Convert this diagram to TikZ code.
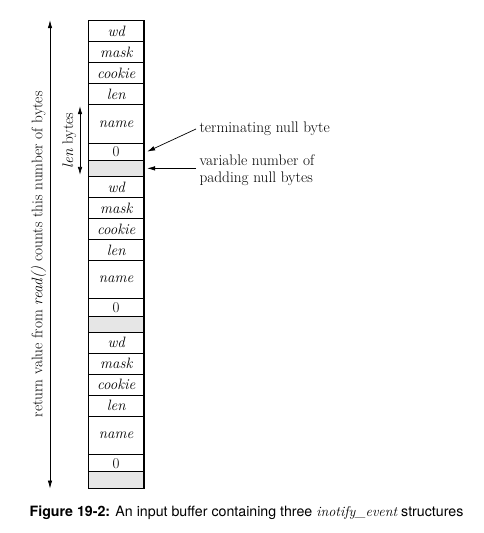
\documentclass[tikz,border=0pt]{standalone}
\usepackage{fontspec}
\newfontfamily\capfont{TeX Gyre Heros}
\usetikzlibrary{matrix,arrows.meta}

\begin{document}
\begin{tikzpicture}[x=1pt,y=-1pt]

% Define colors for styling
\definecolor{padColor}{RGB}{230,230,230} % Light gray for padding bytes

\tikzset{
  lbl/.style={font=\fontsize{15.3}{17}\selectfont}, % Labels beside the buffer
  arr/.style={-{Latex[length=8pt,width=4.5pt]}, line width=0.7pt},
  dblarr/.style={{Latex[length=8pt,width=4.5pt]}-{Latex[length=8pt,width=4.5pt]}, line width=0.7pt}
}

\useasboundingbox (0,0) rectangle (483,533);

% The buffer as a one-column matrix, one cell per field
\matrix (m) [
  matrix of nodes,
  nodes in empty cells,
  anchor=north west,
  inner sep=0pt,
  nodes={
    draw, line width=0.9pt, % Border of each cell
    minimum width=55pt, % Width of the buffer
    minimum height=21pt, % Height of a fixed field
    inner sep=0pt,
    font=\fontsize{15}{17}\selectfont\itshape
  },
  namecell/.style={minimum height=38.4pt}, % Taller cell for the name
  zerocell/.style={minimum height=17.2pt, font=\fontsize{15}{17}\selectfont}, % Null byte
  padcell/.style={minimum height=16.2pt, fill=padColor}, % Padding bytes
  row sep=-0.9pt % Overlap the borders
] at (88,20) {
  wd \\
  mask \\
  cookie \\
  len \\
  |[namecell]| name \\
  |[zerocell]| 0 \\
  |[padcell]| \\
  wd \\
  mask \\
  cookie \\
  len \\
  |[namecell]| name \\
  |[zerocell]| 0 \\
  |[padcell]| \\
  wd \\
  mask \\
  cookie \\
  len \\
  |[namecell]| name \\
  |[zerocell]| 0 \\
  |[padcell]| \\
};
\draw[line width=1.2pt] (m-1-1.north west) rectangle (m-21-1.south east);

% Notes on the right
\node[lbl, anchor=west] (term) at (196,129) {terminating null byte};
\node[lbl, anchor=west, align=left] (padtxt) at (196,170) {variable number of\\padding null bytes};
\draw[arr] (term.west) -- ([xshift=3pt]m-6-1.east);
\draw[arr] (padtxt.west |- m-7-1.east) -- ([xshift=3pt]m-7-1.east);

% Sizes on the left
\coordinate (bufx) at (50,0);
\coordinate (lenx) at (80,0);
\draw[dblarr] (m-1-1.north -| bufx) -- node[lbl, midway, rotate=90, anchor=south] (readlbl) {return value from \textit{read()} counts this number of bytes} (m-21-1.south -| bufx);
\draw[dblarr, shorten <=2pt, shorten >=2pt] (m-5-1.north -| lenx) -- node[lbl, midway, rotate=90, anchor=south] (lenlbl) {\textit{len} bytes} (m-7-1.south -| lenx);

% Caption
\node[font=\capfont\fontsize{14.2}{16}\selectfont, anchor=base] (cap) at (246.5,516.7) {\textbf{Figure 19-2:} An input buffer containing three {\rmfamily\itshape inotify\_event} structures};

\end{tikzpicture}
\end{document}
